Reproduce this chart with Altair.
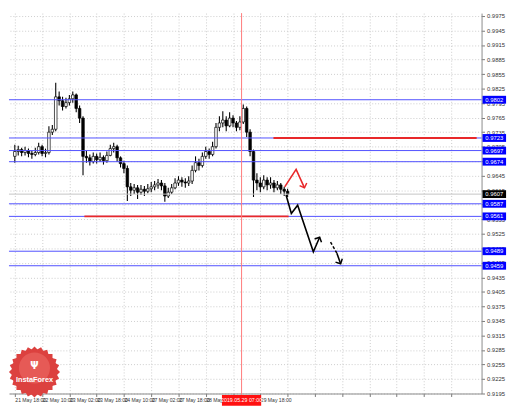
import altair as alt
import pandas as pd

W, H = 482, 388

# ---------------- data ----------------
X_LABELS = ["21 May 18:00", "22 May 10:00", "23 May 02:00", "23 May 18:00", "24 May 10:00",
            "27 May 02:00", "27 May 18:00", "28 May 10:00", "29 May 02:00", "29 May 18:00"]
X_TICKS = [0, 16, 32, 48, 64, 80, 96, 112, 128, 144, 160, 176, 192, 208, 224, 240, 256]
Y_TICKS = [0.9195, 0.9225, 0.9255, 0.9285, 0.9315, 0.9345, 0.9375, 0.9405, 0.9435, 0.9465,
           0.9495, 0.9525, 0.9555, 0.9585, 0.9615, 0.9645, 0.9675, 0.9705, 0.9735, 0.9765,
           0.9795, 0.9825, 0.9855, 0.9885, 0.9915, 0.9945, 0.9975]

BAR_HOURS = list(range(0, 162, 2))
FIRST_OPEN = 0.9685
CLOSE = [
    0.9695, 0.9699, 0.9693, 0.9697, 0.9691, 0.9689, 0.9693, 0.9705, 0.9691, 0.9693,
    0.9735, 0.9741, 0.9808, 0.9800, 0.9788, 0.9796, 0.9804, 0.9812, 0.9784, 0.9764,
    0.9685, 0.9682, 0.9674, 0.9685, 0.9678, 0.9683, 0.9676, 0.9687, 0.9701, 0.9705,
    0.9682, 0.9670, 0.9660, 0.9622, 0.9615, 0.9620, 0.9611, 0.9617, 0.9613, 0.9618,
    0.9622, 0.9626, 0.9630, 0.9624, 0.9603, 0.9611, 0.9620, 0.9630, 0.9636, 0.9632,
    0.9630, 0.9634, 0.9656, 0.9672, 0.9666, 0.9685, 0.9695, 0.9689, 0.9705, 0.9745,
    0.9754, 0.9760, 0.9748, 0.9764, 0.9754, 0.9745, 0.9756, 0.9784, 0.9735, 0.9695,
    0.9636, 0.9630, 0.9622, 0.9636, 0.9626, 0.9630, 0.9620, 0.9626, 0.9617, 0.9613, 0.9607]
HIGH = [
    0.9709, 0.9707, 0.9703, 0.9705, 0.9701, 0.9697, 0.9703, 0.9713, 0.9709, 0.9701,
    0.9747, 0.9750, 0.9837, 0.9819, 0.9808, 0.9806, 0.9812, 0.9819, 0.9815, 0.9790,
    0.9768, 0.9697, 0.9689, 0.9693, 0.9691, 0.9693, 0.9687, 0.9695, 0.9709, 0.9713,
    0.9709, 0.9685, 0.9676, 0.9666, 0.9630, 0.9628, 0.9626, 0.9626, 0.9624, 0.9628,
    0.9632, 0.9634, 0.9638, 0.9636, 0.9630, 0.9620, 0.9628, 0.9640, 0.9644, 0.9642,
    0.9640, 0.9644, 0.9666, 0.9685, 0.9680, 0.9693, 0.9705, 0.9701, 0.9715, 0.9754,
    0.9768, 0.9778, 0.9768, 0.9776, 0.9770, 0.9758, 0.9768, 0.9792, 0.9788, 0.9741,
    0.9699, 0.9650, 0.9642, 0.9646, 0.9642, 0.9642, 0.9636, 0.9634, 0.9630, 0.9622, 0.9618]
LOW = [
    0.9672, 0.9687, 0.9685, 0.9687, 0.9683, 0.9680, 0.9685, 0.9689, 0.9685, 0.9683,
    0.9689, 0.9729, 0.9737, 0.9790, 0.9780, 0.9784, 0.9790, 0.9796, 0.9776, 0.9754,
    0.9646, 0.9672, 0.9666, 0.9670, 0.9670, 0.9674, 0.9668, 0.9672, 0.9685, 0.9693,
    0.9674, 0.9662, 0.9650, 0.9593, 0.9603, 0.9607, 0.9597, 0.9605, 0.9603, 0.9609,
    0.9611, 0.9615, 0.9618, 0.9615, 0.9591, 0.9599, 0.9607, 0.9617, 0.9624, 0.9622,
    0.9620, 0.9624, 0.9628, 0.9652, 0.9656, 0.9662, 0.9680, 0.9680, 0.9685, 0.9701,
    0.9737, 0.9745, 0.9737, 0.9745, 0.9745, 0.9737, 0.9739, 0.9752, 0.9725, 0.9685,
    0.9601, 0.9615, 0.9611, 0.9617, 0.9615, 0.9618, 0.9611, 0.9615, 0.9607, 0.9603, 0.9601]

BLUE_LEVELS = [0.9802, 0.9723, 0.9697, 0.9674, 0.9587, 0.9561, 0.9489, 0.9459]
CURRENT_PRICE = 0.9607
RED_LEVEL_PRICE = [0.9723, 0.9561]
RED_LEVEL_FROM = [151.7, 40.8]
RED_LEVEL_TO = [270.9, 160.6]
CROSS_HOUR = 133
CROSS_LABEL = "2019.05.29 07:00"

FC_BLACK_H = [159.1, 162.2, 165.9, 175.1, 178.8]
FC_BLACK_P = [0.9605, 0.9567, 0.9584, 0.9488, 0.9518]
FC_DASH_H = [185.2, 188.9]
FC_DASH_P = [0.9508, 0.9485]
FC_TAIL_H = [188.9, 191.1]
FC_TAIL_P = [0.9485, 0.9463]
FC_RED_H = [158.3, 165.0, 169.9]
FC_RED_P = [0.9622, 0.9658, 0.9620]
ARROW_H = [178.8, 191.1, 169.9]
ARROW_P = [0.9518, 0.9463, 0.9620]
ARROW_ANGLE = [25, 153, 160]
ARROW_COLOR = ["#000000", "#000000", "#e8282a"]

LOGO_TEXT = "InstaForex"

# ---------------- tables ----------------
candles = pd.DataFrame({
    "hour": BAR_HOURS,
    "open": [FIRST_OPEN] + CLOSE[:-1],
    "close": CLOSE,
    "high": HIGH,
    "low": LOW,
})

xscale = alt.Scale(domain=[-0.55, 270.9], nice=False, zero=False)
yscale = alt.Scale(domain=[0.9195, 0.9981], nice=False, zero=False)

lab_js = "[" + ",".join("'" + s + "'" for s in X_LABELS) + "]"
x_axis = alt.Axis(values=X_TICKS, grid=True, gridDash=[1, 2], gridColor="#cccccc",
                  tickSize=3, tickColor="#777777", domainColor="#8a8a8a",
                  labelFontSize=5.2, labelAlign="left", labelPadding=1, labelColor="#333333",
                  labelOverlap=False, labelFlush=False, title=None,
                  labelExpr="(datum.value > 144 || datum.value == 128) ? '' : "
                            + lab_js + "[datum.value / 16]")
y_axis = alt.Axis(orient="right", values=Y_TICKS, format=".4f", grid=True, gridDash=[1, 2],
                  gridColor="#cccccc", tickSize=3, tickColor="#777777", domainColor="#8a8a8a",
                  labelFontSize=6, labelPadding=2, labelColor="#333333", labelOverlap=False,
                  title=None)


def X(field="hour:Q"):
    return alt.X(field, scale=xscale, axis=x_axis)


def Y(field="price:Q"):
    return alt.Y(field, scale=yscale, axis=y_axis)


wicks = alt.Chart(candles).mark_rule(color="#000000", strokeWidth=1.1).encode(
    x=X(), y=Y("low:Q"), y2="high:Q")

bodies = alt.Chart(candles).mark_bar(size=2.6, stroke="#000000", strokeWidth=0.7).encode(
    x=X(), y=Y("open:Q"), y2="close:Q",
    fill=alt.condition("datum.close >= datum.open", alt.value("white"), alt.value("black")))

current = alt.Chart(pd.DataFrame({"price": [CURRENT_PRICE]})).mark_rule(
    color="#c4c4c4", strokeWidth=1).encode(y=Y())

blue = alt.Chart(pd.DataFrame({"price": BLUE_LEVELS})).mark_rule(
    color="#5050ff", strokeWidth=1).encode(y=Y())

red = alt.Chart(pd.DataFrame({"price": RED_LEVEL_PRICE, "h0": RED_LEVEL_FROM,
                              "h1": RED_LEVEL_TO})).mark_rule(
    color="#e8282a", strokeWidth=2).encode(x=X("h0:Q"), x2="h1:Q", y=Y())

cross_df = pd.DataFrame({"hour": [CROSS_HOUR], "label": [CROSS_LABEL]})
cross = alt.Chart(cross_df).mark_rule(
    color="#ff7a7a", strokeWidth=1).encode(x=X(), y=alt.value(0), y2=alt.value(H + 2))


def path(hs, ps):
    return pd.DataFrame({"hour": hs, "price": ps, "seq": list(range(len(hs)))})


fc_black = alt.Chart(path(FC_BLACK_H, FC_BLACK_P)).mark_line(
    color="black", strokeWidth=1.6).encode(x=X(), y=Y(), order="seq:Q")
fc_dash = alt.Chart(path(FC_DASH_H, FC_DASH_P)).mark_line(
    color="black", strokeWidth=1.5, strokeDash=[3, 2]).encode(x=X(), y=Y(), order="seq:Q")
fc_tail = alt.Chart(path(FC_TAIL_H, FC_TAIL_P)).mark_line(
    color="black", strokeWidth=1.6).encode(x=X(), y=Y(), order="seq:Q")
fc_red = alt.Chart(path(FC_RED_H, FC_RED_P)).mark_line(
    color="#e8282a", strokeWidth=1.6).encode(x=X(), y=Y(), order="seq:Q")

arrows = alt.Chart(pd.DataFrame({"hour": ARROW_H, "price": ARROW_P, "angle": ARROW_ANGLE,
                                 "color": ARROW_COLOR})).mark_point(
    shape="M-1,1L0,0L1,1", filled=False, size=60, strokeWidth=1.5, opacity=1).encode(
    x=X(), y=Y(), angle=alt.Angle("angle:Q", scale=None),
    stroke=alt.Stroke("color:N", scale=None))

box_df = pd.DataFrame({"price": BLUE_LEVELS + [CURRENT_PRICE],
                       "col": ["#0000ff"] * len(BLUE_LEVELS) + ["#000000"]})
boxes = alt.Chart(box_df).mark_rule(strokeWidth=8, strokeCap="butt").encode(
    x=alt.value(W + 1), x2=alt.value(W + 25), y=Y(),
    color=alt.Color("col:N", scale=None))
box_text = alt.Chart(box_df).mark_text(fontSize=6, color="white").encode(
    x=alt.value(W + 13), y=Y(), text=alt.Text("price:Q", format=".4f"))

cross_box = alt.Chart(cross_df).mark_rule(
    strokeWidth=40, strokeCap="butt", color="#ff1010").encode(
    x=X(), y=alt.value(H + 1.5), y2=alt.value(H + 12.5))
cross_text = alt.Chart(cross_df).mark_text(fontSize=5.4, color="white").encode(
    x=X(), y=alt.value(H + 7), text="label:N")

LX, LY = 26, 366
spikes = alt.Chart(pd.DataFrame({"ang": [0, 15, 30, 45, 60, 75]})).mark_point(
    shape="square", filled=True, size=1354, color="#dc413f", opacity=1, strokeWidth=0).encode(
    x=alt.value(LX), y=alt.value(LY), angle=alt.Angle("ang:Q", scale=None))
disc = alt.Chart(pd.DataFrame({"k": [0]})).mark_point(
    shape="circle", filled=True, size=2116, color="#dc413f", opacity=1, strokeWidth=0).encode(
    x=alt.value(LX), y=alt.value(LY))
inner = alt.Chart(pd.DataFrame({"k": [0]})).mark_point(
    shape="circle", filled=True, size=1000, color="#e8605c", opacity=0.8, strokeWidth=0).encode(
    x=alt.value(LX), y=alt.value(LY - 4))
icon = alt.Chart(pd.DataFrame({"t": ["Ψ"]})).mark_text(
    fontSize=10, fontWeight="bold", color="white", font="DejaVu Sans").encode(
    x=alt.value(LX), y=alt.value(LY - 6), text="t:N")
logo_text = alt.Chart(pd.DataFrame({"t": [LOGO_TEXT]})).mark_text(
    fontSize=7.5, fontWeight="bold", color="white").encode(
    x=alt.value(LX), y=alt.value(LY + 8), text="t:N")

chart = alt.layer(
    wicks, bodies, current, blue, red, cross,
    fc_black, fc_dash, fc_tail, fc_red, arrows,
    boxes, box_text, cross_box, cross_text,
    spikes, disc, inner, icon, logo_text,
).properties(width=W, height=H, padding=0, background="white").configure(
    font="Liberation Sans").configure_view(strokeWidth=0)

chart.save("out.html", embed_options={"renderer": "svg", "actions": False})
